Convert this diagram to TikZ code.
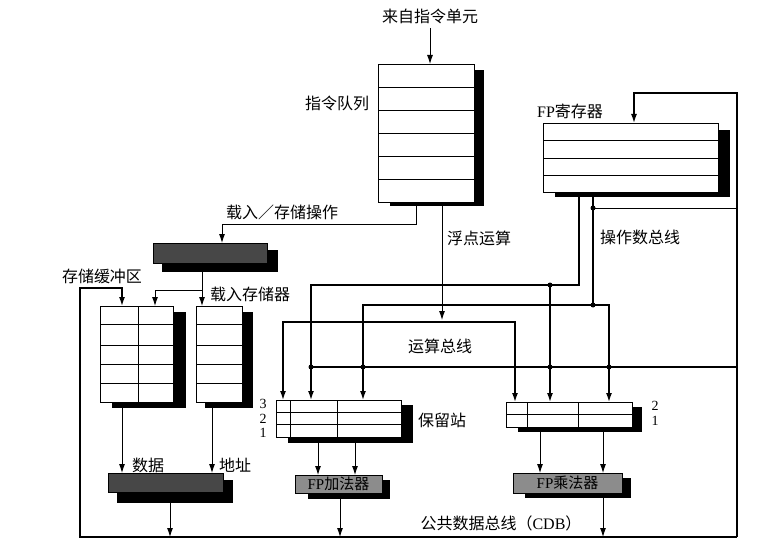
\documentclass[tikz,border=0pt]{standalone}
\usepackage{fontspec}
\setmainfont{Liberation Serif}
\newfontfamily\cjk{Noto Sans CJK SC}
\usetikzlibrary{arrows.meta}
\tikzset{
  box/.style={draw, line width=0.9pt, fill=white, inner sep=0pt, outer sep=0pt},
  shade/.style={fill=black, draw=none},
  bus/.style={line width=1.4pt},
  ln/.style={line width=0.9pt},
  arr/.style={-{Latex[length=9pt,width=6pt]}},
  jdot/.style={circle, fill=black, inner sep=0pt, minimum size=5pt},
  lbl/.style={font=\cjk\fontsize{16}{16}\selectfont, inner sep=0pt},
  num/.style={font=\rmfamily\fontsize{14}{14}\selectfont, inner sep=0pt},
  darkbox/.style={draw=black, line width=0.6pt, fill=black!72, inner sep=0pt, outer sep=0pt},
  greybox/.style={draw=black, line width=0.6pt, fill=black!45, inner sep=0pt, outer sep=0pt},
}
\begin{document}
\begin{tikzpicture}[x=1pt, y=-1pt]
\useasboundingbox (0,0) rectangle (772,551);
% ---------- shadows ----------
\fill[shade] (390,70) rectangle (484,206);
\fill[shade] (555,130) rectangle (730,197);
\fill[shade] (162,250) rectangle (278,272);
\fill[shade] (112,312) rectangle (186,408);
\fill[shade] (205,312) rectangle (253,408);
\fill[shade] (117,480) rectangle (233,503);
\fill[shade] (288,405) rectangle (413,443);
\fill[shade] (518,407) rectangle (642,432);
\fill[shade] (308,480) rectangle (390,499);
\fill[shade] (525,478) rectangle (631,498);
% ---------- boxes ----------
\node[box, minimum width=96pt, minimum height=138pt] (iq) at (426,133) {};
\foreach \yy in {87,110,133,156,179} \draw[ln] (378,\yy) -- (474,\yy);
\node[box, minimum width=175pt, minimum height=69pt] (fr) at (630.5,157.5) {};
\foreach \yy in {140,158,175} \draw[ln] (543,\yy) -- (718,\yy);
\node[darkbox, minimum width=114pt, minimum height=20pt] (ls) at (210,253) {};
\node[box, minimum width=73pt, minimum height=96pt] (sb) at (136.5,354) {};
\draw[ln] (138,306) -- (138,402);
\foreach \yy in {324,345,364,383} \draw[ln] (100,\yy) -- (173,\yy);
\node[box, minimum width=46pt, minimum height=96pt] (lb) at (219,354) {};
\foreach \yy in {324,345,364,383} \draw[ln] (196,\yy) -- (242,\yy);
\node[darkbox, minimum width=115pt, minimum height=19pt] (mem) at (165.5,482.5) {};
\node[box, minimum width=125pt, minimum height=37pt] (ars) at (338.5,418.5) {};
\draw[ln] (276,412.3) -- (401,412.3);
\draw[ln] (276,424.7) -- (401,424.7);
\draw[ln] (290,400) -- (290,437);
\draw[ln] (337,400) -- (337,437);
\node[box, minimum width=126pt, minimum height=25pt] (mrs) at (569,414.5) {};
\draw[ln] (506,414.5) -- (632,414.5);
\draw[ln] (527,402) -- (527,427);
\draw[ln] (578,402) -- (578,427);
\node[greybox, minimum width=87pt, minimum height=18pt, font=\fontsize{15}{15}\selectfont] (fa) at (338.5,484) {FP{\cjk 加法器}};
\node[greybox, minimum width=109pt, minimum height=20pt, font=\fontsize{15}{15}\selectfont] (fm) at (567.5,483) {FP{\cjk 乘法器}};
% ---------- labels ----------
\node[lbl] (t1) at (430,16) {来自指令单元};
\node[lbl] (t2) at (337,103) {指令队列};
\node[inner sep=0pt, font=\fontsize{16}{16}\selectfont] (t3) at (570,111) {FP{\cjk 寄存器}};
\node[lbl] (t4) at (282,212) {载入／存储操作};
\node[lbl] (t5) at (479,238) {浮点运算};
\node[lbl] (t6) at (640,237) {操作数总线};
\node[lbl] (t7) at (102,276) {存储缓冲区};
\node[lbl] (t8) at (250,294) {载入存储器};
\node[lbl] (t9) at (440,346) {运算总线};
\node[lbl] (t10) at (442,420) {保留站};
\node[num] (n3) at (263,404) {3};
\node[num] (n2) at (263,418.5) {2};
\node[num] (n1) at (263,433) {1};
\node[num] (m2) at (655,406) {2};
\node[num] (m1) at (655,421) {1};
\node[lbl] (t11) at (148,465) {数据};
\node[lbl] (t12) at (235,465) {地址};
\node[inner sep=0pt, font=\fontsize{16}{16}\selectfont] (t13) at (501,523) {{\cjk 公共数据总线（}CDB{\cjk ）}};
% ---------- coordinates ----------
\coordinate (src) at (430,28);
\coordinate (q1) at (416,202);
\coordinate (q2) at (442,202);
\coordinate (opL) at (283,322);
\coordinate (opR) at (515,322);
\coordinate (ra) at (579,192);
\coordinate (rb) at (593,192);
\coordinate (ja) at (550,285);
\coordinate (jb) at (593,305);
\coordinate (jr) at (593,208);
\coordinate (cdbBR) at (737,537);
\coordinate (cdbBL) at (80,537);
% ---------- connectors ----------
\draw[ln, arr] (src) -- (iq.north -| src);
\draw[ln, arr] (q1) |- (222,224) -- (ls.north -| 222,0);
\draw[ln, arr] (q2) -- (442,320);
\draw[bus, arr] (opR -| q2) -- (opL) -- (283,400);
\draw[bus, arr] (opR -| q2) -- (opR) -- (515,402);
% FP register operand buses
\draw[bus, arr] (ra) -- (579,285) -- (311,285) -- (311,400);
\draw[bus, arr] (ja) -- (550,402);
\draw[bus, arr] (rb) -- (jb) -- (363,305) -- (363,400);
\draw[bus, arr] (jb) -- (609,305) -- (609,402);
% CDB
\draw[bus, arr] (cdbBR) -- (737,93) -- (634,93) -- (634,123);
\draw[ln] (jr) -- (737,208);
\draw[bus] (737,367) -- (311,367);
\draw[bus, arr] (cdbBR) -- (cdbBL) -- (80,288) -- (122,288) -- (122,306);
% load/store
\draw[ln, arr] (ls.south -| 202,0) -- (202,290) -- (155,290) -- (155,306);
\draw[ln, arr] (202,290) -- (202,306);
\draw[ln, arr] (122,402) -- (mem.north -| 122,0);
\draw[ln, arr] (212,402) -- (mem.north -| 212,0);
\draw[ln, arr] (mem.south -| 170,0) -- (170,537);
% reservation stations to units
\draw[ln, arr] (318,437) -- (fa.north -| 318,0);
\draw[ln, arr] (355,437) -- (fa.north -| 355,0);
\draw[ln, arr] (fa.south -| 340,0) -- (340,537);
\draw[ln, arr] (540,427) -- (fm.north -| 540,0);
\draw[ln, arr] (603,427) -- (fm.north -| 603,0);
\draw[ln, arr] (fm.south -| 603,0) -- (603,537);
% junction dots
\foreach \p in {ja, jb, jr} \node[jdot] at (\p) {};
\foreach \xx in {311,363,550,609} \node[jdot] at (\xx,367) {};
\end{tikzpicture}
\end{document}
